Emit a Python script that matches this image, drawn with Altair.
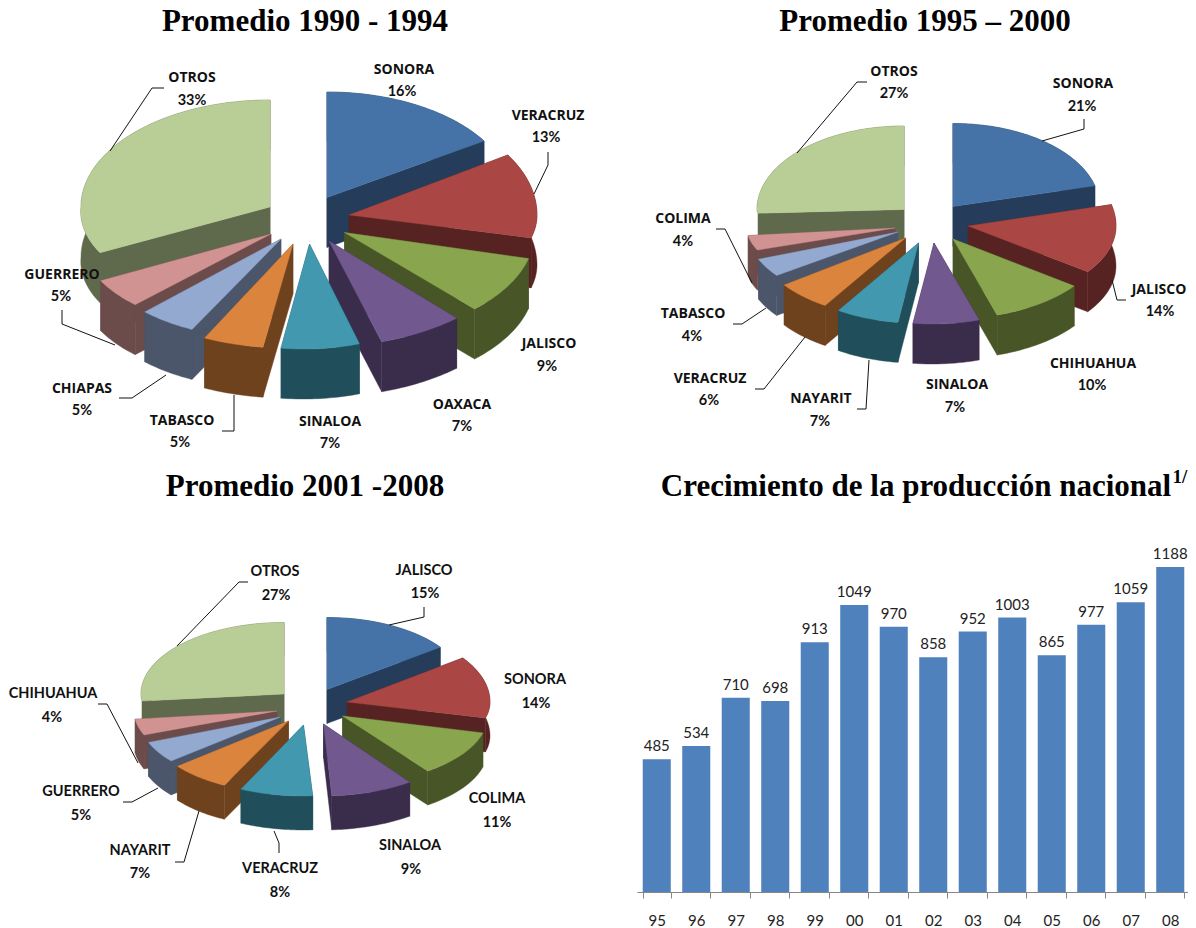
import math
import altair as alt

# ---------- chart values ----------
P1_NAMES = ["SONORA", "VERACRUZ", "JALISCO", "OAXACA", "SINALOA", "TABASCO", "CHIAPAS", "GUERRERO", "OTROS"]
P1_VALUES = [16, 13, 9, 7, 7, 5, 5, 5, 33]
P2_NAMES = ["SONORA", "JALISCO", "CHIHUAHUA", "SINALOA", "NAYARIT", "VERACRUZ", "TABASCO", "COLIMA", "OTROS"]
P2_VALUES = [21, 14, 10, 7, 7, 6, 4, 4, 27]
P3_NAMES = ["JALISCO", "SONORA", "COLIMA", "SINALOA", "VERACRUZ", "NAYARIT", "GUERRERO", "CHIHUAHUA", "OTROS"]
P3_VALUES = [15, 14, 11, 9, 8, 7, 5, 4, 27]
YEARS = ["95", "96", "97", "98", "99", "00", "01", "02", "03", "04", "05", "06", "07", "08"]
PRODUCTION = [485, 534, 710, 698, 913, 1049, 970, 858, 952, 1003, 865, 977, 1059, 1188]

# ---------- styles ----------
TOP = ["#4573A7", "#AA4643", "#89A54E", "#71588F", "#4198AF", "#DB843D", "#93A9CF", "#D19392", "#B9CD96"]
SIDE = ["#253C5A", "#572322", "#485527", "#3A2C4B", "#214E5B", "#6F421E", "#4B566B", "#6C4C4B", "#5F6A4C"]

# ---------- layout: slice geometry (apex x, apex y, rx, ry back, ry front, shear) ----------
P1_GEOM = [(327, 197.5, 186, 105.5, 105.5, 0), (349, 215, 188, 112, 92, 0), (344.5, 232.5, 190, 100, 105, 0),
           (329, 241, 195, 105, 106, -8), (309.5, 244, 180, 107, 105, -6), (293, 244, 196, 104, 104, -5.5),
           (281, 239, 189, 100, 100, -9.4), (271, 234, 190, 97, 97, -8), (270, 207, 189, 107, 95, -9)]
P2_GEOM = [(953, 206.5, 146.5, 83, 83, 0), (968, 226, 148, 86, 78, 0), (953, 239, 152, 80, 80, -3),
           (934, 243, 152, 80, 81, -2), (918.5, 243, 146, 80, 80, -2.2), (905.5, 238, 150, 80, 80, 0),
           (898, 232, 150, 74, 74, 0), (895, 228, 148, 60, 60, 0), (904, 209.5, 147, 83.5, 30, 0)]
P3_GEOM = [(327, 689.5, 140, 72, 72, 0), (347, 702, 143, 75, 64, 0), (342.5, 716, 145, 68, 68, 0),
           (323.5, 724, 148, 72, 72, -1), (303.5, 725, 147, 72, 71, 0), (288.5, 721, 140, 71, 71, -5),
           (280.5, 717, 142, 69, 69, 0), (277, 711, 143, 65, 65, 0), (284, 694, 143, 71.5, 56, 0)]
DEPTHS = [50, 40, 34]

# ---------- layout: label anchors (name x, name y, percent x, percent y) ----------
P1_LABELS = [(404, 70, 402, 92), (548, 116, 546, 138), (549, 344, 547, 367), (462, 405, 462, 427), (330, 422, 330, 444),
             (182, 421, 180, 443), (82, 389, 82, 411), (62, 275, 61, 297), (192, 78, 192, 101)]
P2_LABELS = [(1083, 84, 1082, 107), (1159, 290, 1160, 312), (1093, 364, 1092, 386), (957, 385, 955, 408),
             (821, 399, 820, 422), (710, 379, 709, 401), (693, 314, 692, 337), (683, 219, 683, 242), (894, 72, 894, 94)]
P3_LABELS = [(424, 571, 425, 594), (535, 680, 536, 704), (497, 799, 497, 823), (410, 846, 411, 870), (280, 869, 280, 893),
             (140, 851, 140, 874), (81, 792, 81, 816), (53, 694, 52, 718), (275, 572, 276, 596)]
LEADERS = [
    [(164, 88), (152, 88), (110, 151)], [(548, 152), (548, 165), (534, 194)], [(62, 310), (62, 324), (115, 345)],
    [(119, 398), (132, 398), (166, 375)], [(222, 431), (234, 431), (234, 395)],
    [(867, 82), (857, 82), (797, 153)], [(1084, 119), (1084, 129), (1042, 141)], [(1126, 300), (1117, 300), (1112, 280)],
    [(716, 229), (725, 229), (752, 283)], [(733, 324), (742, 324), (766, 308)], [(755, 389), (764, 389), (805, 337)],
    [(857, 409), (866, 409), (869, 360)],
    [(248, 582), (239, 582), (177, 646)], [(424, 607), (424, 617), (389, 625)], [(98, 704), (107, 704), (138, 763)],
    [(123, 802), (132, 802), (158, 788)], [(175, 862), (184, 862), (199, 811)], [(279, 853), (279, 843), (274, 831)],
]
TITLES = [("Promedio 1990 - 1994", 305, 22), ("Promedio 1995 – 2000", 925, 22),
          ("Promedio 2001 -2008", 305, 487), ("Crecimiento de la producción nacional", 916, 487)]


def polygon(points, color):
    ring = [list(p) for p in points] + [list(points[0])]
    return {"type": "Feature", "geometry": {"type": "Polygon", "coordinates": [ring]},
            "properties": {"fill": color}}


def slice_features(values, geom, depth):
    """Turn one pie's percentages into wall and top polygons, back slices first."""
    total = sum(values)
    cum = 0
    slices = []
    for i, v in enumerate(values):
        a0 = cum / total * 2 * math.pi
        cum += v
        a1 = cum / total * 2 * math.pi
        ax, ay, rx, ryb, ryf, sh = geom[i]
        rim = []
        n = max(2, int(v * 3))
        for k in range(n + 1):
            t = a0 + (a1 - a0) * k / n
            c = math.cos(t)
            rim.append((ax + rx * math.sin(t) + sh * max(-c, 0), ay - (ryb if c > 0 else ryf) * c))
        down = lambda p: (p[0], p[1] + depth)
        apex = (ax, ay)
        feats = [
            polygon([apex, rim[0], down(rim[0]), down(apex)], SIDE[i]),
            polygon([apex, rim[-1], down(rim[-1]), down(apex)], SIDE[i]),
            polygon(rim + [down(p) for p in reversed(rim)], SIDE[i]),
            polygon([apex] + rim, TOP[i]),
        ]
        slices.append((ay, feats))
    slices.sort(key=lambda s: s[0])
    return [f for _, fs in slices for f in fs]


shapes = []
for vals, geo, dep in zip([P1_VALUES, P2_VALUES, P3_VALUES], [P1_GEOM, P2_GEOM, P3_GEOM], DEPTHS):
    shapes += slice_features(vals, geo, dep)

lines = [{"type": "Feature", "geometry": {"type": "LineString", "coordinates": [list(p) for p in l]},
          "properties": {}} for l in LEADERS]

names_wide, names_plain, pcts = [], [], []
for names, vals, labs, target in [(P1_NAMES, P1_VALUES, P1_LABELS, names_wide),
                                  (P2_NAMES, P2_VALUES, P2_LABELS, names_wide),
                                  (P3_NAMES, P3_VALUES, P3_LABELS, names_plain)]:
    for n, v, (nx, ny, px, py) in zip(names, vals, labs):
        target.append({"t": n, "px": nx, "py": ny})
        pcts.append({"t": f"{v}%", "px": px, "py": py})

proj = dict(type="identity", scale=1, translate=[-8, -8])


def text_layer(rows, **mark):
    return alt.Chart(alt.Data(values=rows)).mark_text(baseline="middle", align="center", clip=False, **mark).encode(
        longitude="px:Q", latitude="py:Q", text="t:N").project(**proj)


shape_layer = alt.Chart(alt.Data(values=shapes)).mark_geoshape(strokeWidth=0.4, clip=False).encode(
    fill=alt.Fill("properties.fill:N", scale=None),
    stroke=alt.Stroke("properties.fill:N", scale=None)).project(**proj)
line_layer = alt.Chart(alt.Data(values=lines)).mark_geoshape(
    filled=False, stroke="#111111", strokeWidth=1, clip=False).project(**proj)

bar_rows = [{"year": y, "value": v} for y, v in zip(YEARS, PRODUCTION)]
x_enc = alt.X("year:N", sort=YEARS, title=None,
              scale=alt.Scale(range=[629, 1182], paddingInner=0.29, paddingOuter=0.145),
              axis=alt.Axis(labelAngle=0, labelFont="Lato", labelFontSize=15, labelColor="#222222",
                            labelPadding=15, tickColor="#868686", domainColor="#868686", tickSize=6,
                            tickBand="extent", grid=False))
y_enc = alt.Y("value:Q", title=None, axis=None,
              scale=alt.Scale(domain=[0, 1188], range=[884, 559], nice=False))
bars = alt.Chart(alt.Data(values=bar_rows)).mark_bar(color="#4F81BD").encode(x=x_enc, y=y_enc)
bar_text = alt.Chart(alt.Data(values=bar_rows)).mark_text(
    font="Lato", fontSize=15, color="#222222", baseline="bottom", dy=-5).encode(x=x_enc, y=y_enc, text="value:Q")

title_rows = [{"t": t, "px": x, "py": y} for t, x, y in TITLES]

chart = alt.layer(
    bars, bar_text, shape_layer, line_layer,
    text_layer(names_wide, font="Open Sans", fontWeight="bold", fontSize=14, color="#111111"),
    text_layer(names_plain, font="Lato", fontWeight="bold", fontSize=14.5, color="#111111"),
    text_layer(pcts, font="Lato", fontWeight="bold", fontSize=14.5, color="#111111"),
    text_layer(title_rows, font="Liberation Serif", fontWeight="bold", fontSize=31, color="#000000"),
    text_layer([{"t": "1/", "px": 1180, "py": 477}], font="Liberation Serif", fontWeight="bold", fontSize=19, color="#000000"),
).properties(
    width=1180, height=884,
    autosize=alt.AutoSizeParams(type="none"),
    padding={"left": 0, "top": 0, "right": 0, "bottom": 36},
).configure_view(stroke=None)

chart.save("out.html", embed_options={"renderer": "svg", "actions": False})
